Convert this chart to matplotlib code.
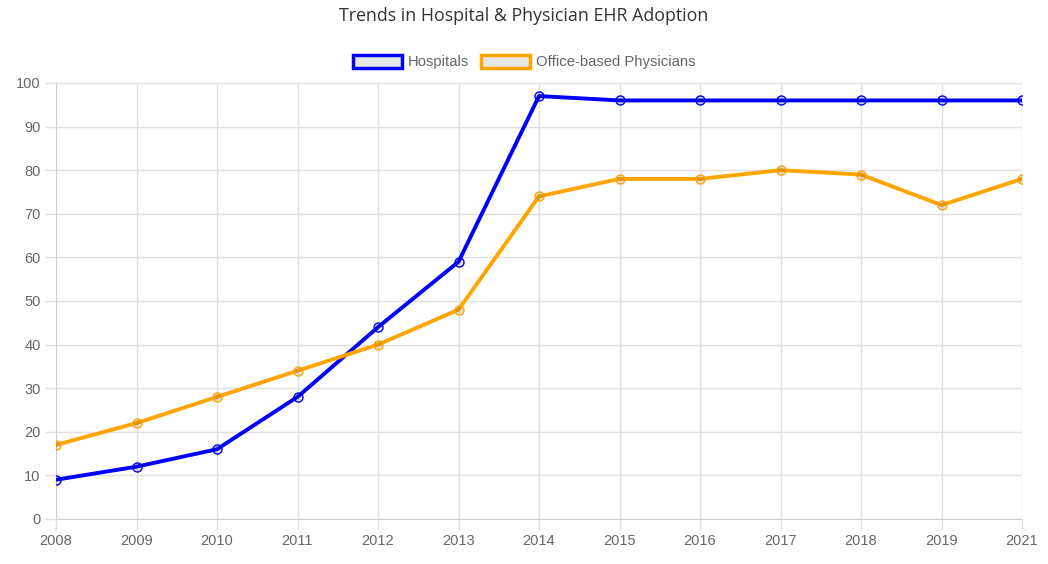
import matplotlib.pyplot as plt
from matplotlib.patches import Patch

years = [2008, 2009, 2010, 2011, 2012, 2013, 2014, 2015, 2016, 2017, 2018, 2019, 2021]
year_labels = [str(y) for y in years]
hospitals = [9, 12, 16, 28, 44, 59, 97, 96, 96, 96, 96, 96, 96]
physicians = [17, 22, 28, 34, 40, 48, 74, 78, 78, 80, 79, 72, 78]

plt.rcParams['font.family'] = ['Liberation Sans', 'DejaVu Sans']

fig = plt.figure(figsize=(10.48, 5.64), dpi=100)
ax = fig.add_axes([56 / 1048, 1 - 519 / 564, (1022 - 56) / 1048, (519 - 83) / 564])

x = list(range(len(years)))
ax.plot(x, hospitals, color='#0000ff', lw=2.8, marker='o', ms=6.5,
        mfc=(0, 0, 0, 0.1), mec='#0000ff', mew=1, zorder=3)
ax.plot(x, physicians, color='#ffa500', lw=2.8, marker='o', ms=6.5,
        mfc=(0, 0, 0, 0.1), mec='#ffa500', mew=1, zorder=3)

ax.set_xlim(0, len(years) - 1)
ax.set_ylim(0, 100)
ax.set_xticks(x)
ax.set_xticklabels(year_labels)
ax.set_yticks(range(0, 101, 10))
ax.grid(True, color='#e0e0e0', lw=1)
ax.set_axisbelow(True)
for s in ['top', 'right']:
    ax.spines[s].set_visible(False)
for s in ['left', 'bottom']:
    ax.spines[s].set_color('#d0d0d0')
ax.tick_params(colors='#666666', labelsize=10.5, length=8, width=1, pad=3)
ax.tick_params(axis='both', color='#e0e0e0')

# title (outside axes)
fig.text(0.5, 1 - 16 / 564, 'Trends in Hospital & Physician EHR Adoption',
         ha='center', va='center', fontsize=12.8, color='#333333',
         family=['Open Sans', 'DejaVu Sans'])

handles = [Patch(facecolor='#e6e6e6', edgecolor='#0000ff', lw=2.5, label='Hospitals'),
           Patch(facecolor='#e6e6e6', edgecolor='#ffa500', lw=2.5, label='Office-based Physicians')]
leg = fig.legend(handles=handles, loc='center', bbox_to_anchor=(0.5, 1 - 62 / 564),
                 ncol=2, frameon=False, fontsize=10.7, handlelength=3.3, handleheight=0.95,
                 handletextpad=0.4, columnspacing=0.8)
for t in leg.get_texts():
    t.set_color('#666666')

fig.savefig('out.png', dpi=100)
